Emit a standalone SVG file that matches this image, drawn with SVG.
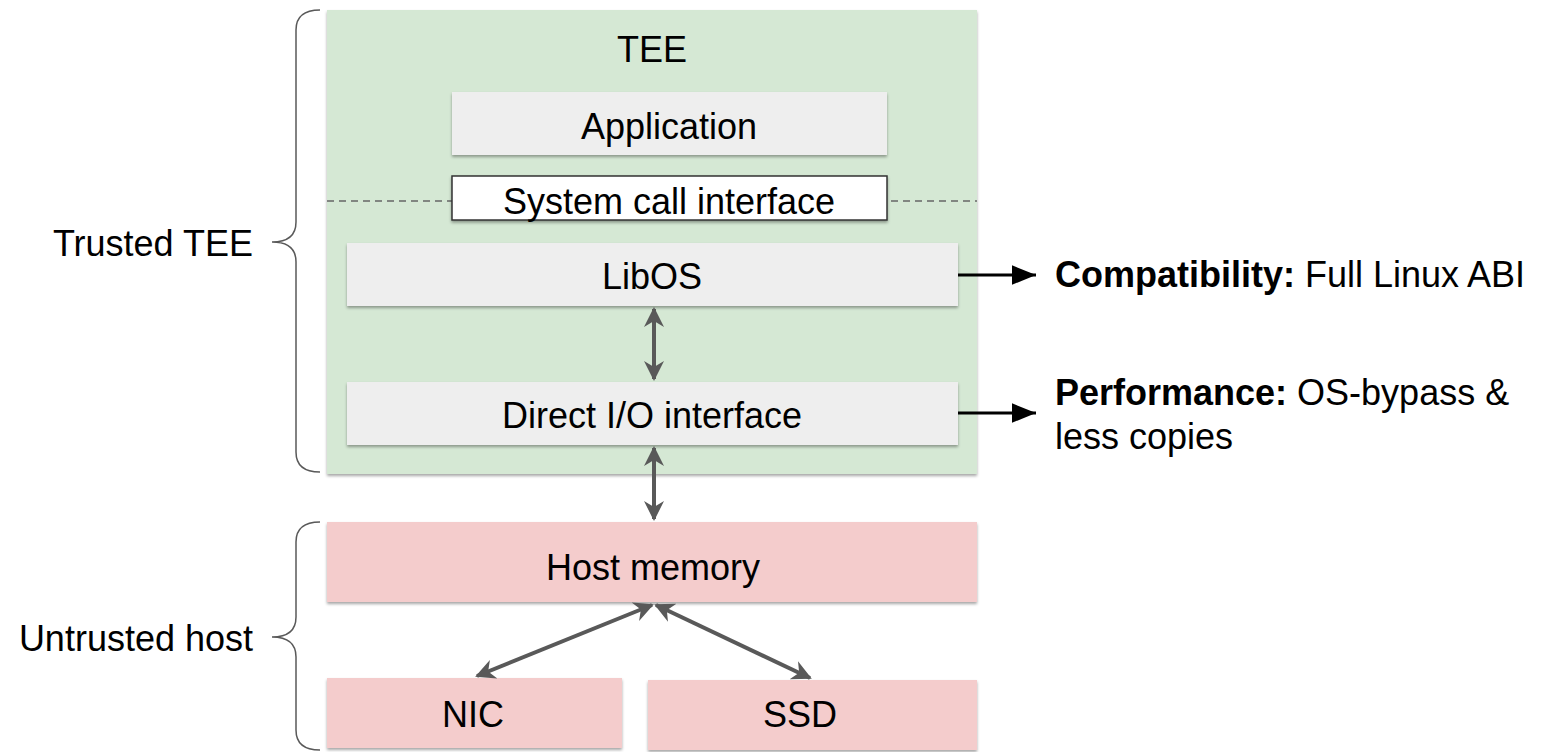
<svg xmlns="http://www.w3.org/2000/svg" width="1545" height="752" viewBox="0 0 1545 752">
<style>
text{font-family:"Liberation Sans",Arial,sans-serif;font-size:36px;fill:#000}
.c{text-anchor:middle}
.b{font-weight:bold}
.grey{fill:#eeeeee}
.green{fill:#d5e8d4}
.pink{fill:#f4cccc}
.brace{fill:none;stroke:#595959;stroke-width:1.5}
.conn{stroke:#595959;stroke-width:4;fill:none}
.blk{stroke:#000;stroke-width:3;fill:none}
</style>
<defs>
<filter id="sh" x="-5%" y="-5%" width="110%" height="120%">
<feDropShadow dx="0" dy="2" stdDeviation="1.5" flood-color="#000" flood-opacity="0.35"/>
</filter>
<marker id="ag" viewBox="0 0 10 10" refX="9" refY="5" markerWidth="5" markerHeight="5" orient="auto-start-reverse">
<path d="M0,0 L10,5 L0,10 L3,5 z" fill="#595959"/>
</marker>
<marker id="ab" viewBox="0 0 10 10" refX="10" refY="5" markerWidth="8" markerHeight="6.5" orient="auto" preserveAspectRatio="none">
<path d="M0,0 L10,5 L0,10 z" fill="#000"/>
</marker>
</defs>

<g id="tee">
<rect x="327" y="10" width="650" height="464" class="green" filter="url(#sh)"/>
<text x="652" y="62" class="c">TEE</text>
</g>
<g id="divider">
<line x1="327" y1="201" x2="977" y2="201" stroke="#666" stroke-width="1.5" stroke-dasharray="7,5"/>
</g>
<g id="application">
<rect x="452" y="92" width="435" height="63" class="grey" filter="url(#sh)"/>
<text x="669" y="139" class="c">Application</text>
</g>
<g id="syscall">
<rect x="452" y="176" width="435" height="44" fill="#fff" stroke="#333" stroke-width="1.5" filter="url(#sh)"/>
<text x="669" y="214" class="c">System call interface</text>
</g>
<g id="libos">
<rect x="347" y="243" width="611" height="63" class="grey" filter="url(#sh)"/>
<text x="652" y="289" class="c">LibOS</text>
</g>
<g id="directio">
<rect x="347" y="382" width="611" height="63" class="grey" filter="url(#sh)"/>
<text x="652" y="428" class="c">Direct I/O interface</text>
</g>
<g id="hostmem">
<rect x="327" y="522" width="650" height="80" class="pink" filter="url(#sh)"/>
<text x="653" y="580" class="c">Host memory</text>
</g>
<g id="nic">
<rect x="327" y="678" width="295" height="70" class="pink" filter="url(#sh)"/>
<text x="473" y="727" class="c">NIC</text>
</g>
<g id="ssd">
<rect x="648" y="680" width="329" height="70" class="pink" filter="url(#sh)"/>
<text x="800" y="727" class="c">SSD</text>
</g>

<g id="trusted-label">
<path class="brace" d="M320,10 Q296,10 296,30 L296,222 Q296,242 272,242 Q296,242 296,262 L296,452 Q296,472 320,472"/>
<text x="253" y="256" text-anchor="end">Trusted TEE</text>
</g>
<g id="untrusted-label">
<path class="brace" d="M320,522 Q296,522 296,542 L296,617 Q296,637 272,637 Q296,637 296,657 L296,730 Q296,750 320,750"/>
<text x="253" y="651" text-anchor="end">Untrusted host</text>
</g>

<g id="compat-label">
<text x="1055" y="287"><tspan class="b">Compatibility:</tspan> Full Linux ABI</text>
</g>
<g id="perf-label">
<text x="1055" y="405"><tspan class="b">Performance:</tspan> OS-bypass &amp;</text>
<text x="1055" y="449">less copies</text>
</g>

<g id="connectors">
<line class="conn" x1="654" y1="309" x2="654" y2="379" marker-start="url(#ag)" marker-end="url(#ag)"/>
<line class="conn" x1="654" y1="448" x2="654" y2="519" marker-start="url(#ag)" marker-end="url(#ag)"/>
<line class="conn" x1="652" y1="605" x2="477" y2="676" marker-start="url(#ag)" marker-end="url(#ag)"/>
<line class="conn" x1="656" y1="605" x2="810" y2="678" marker-start="url(#ag)" marker-end="url(#ag)"/>
<line class="blk" x1="958" y1="275" x2="1036" y2="275" marker-end="url(#ab)"/>
<line class="blk" x1="958" y1="413" x2="1036" y2="413" marker-end="url(#ab)"/>
</g>
</svg>
